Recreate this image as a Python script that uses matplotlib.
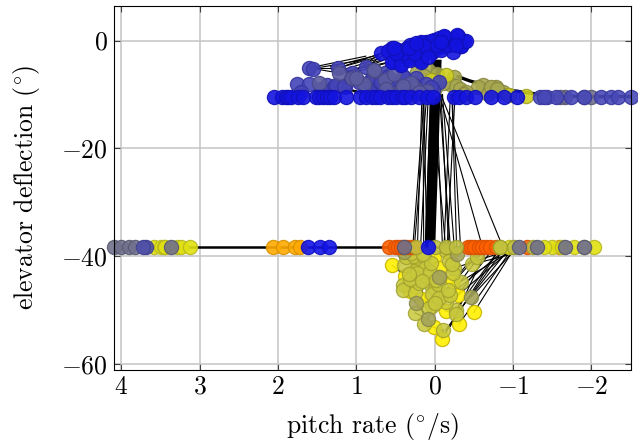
import matplotlib
matplotlib.use('Agg')
import matplotlib.pyplot as plt

plt.rcParams['font.family'] = ['cmr10', 'DejaVu Serif']
plt.rcParams['mathtext.fontset'] = 'cm'
plt.rcParams['axes.unicode_minus'] = False

# One group per colour
top_x = [.69, .54, .52, .43, .39, .31, .24, .18, .18, .11, .03, .01, -.06, -.12, -.18, -.3, -.33, -.38,
         .6, .47, .35, .28, .22, .14, .08, .05, -.02, -.04, -.1, -.15, -.2, -.25, .36, .27, .12, .16, -.08, 0.0,
         .54, .43, .31, .18, .22, .39, .5, .52, .03, -.08, -.23, -.16, -.33, -.4, -.29, -.12, .05, .18, .31, .14,
         -.03, .08, .27, .33, .24, -.27, -.08]
top_y = [-2.4, -1.45, -3.8, -4.2, -2.3, -3.3, -2.1, -.5, -3.6, -.2, -2.1, .1, .4, .7, -.8, .8, -1, 0,
         -2.0, -1.8, -1.4, -1.0, -1.2, -.9, -.4, -1.2, -.6, -.9, -.1, -.3, -.2, .3, -3.0, -2.6, -1.8, -2.8, -1.2, -1.6,
         -3.9, -4.5, -3.6, -3.9, -2.1, -2.4, -2.4, -1.45, -2.1, -1.7, -2.1, -.8, -1.1, 0, 1, .8, 0, -.2, -.8, -1.1,
         -.8, -3, -2.4, -1.45, -.5, -.8, -.2]

slate_x = [1.61, 1.55, 1.23, 1.05, .97, .88, 1.76, 1.61, 1.37, 1.29, 1.15, 1.71, 1.45,
           .71, .56, .41, .24, .11, -.05, .26, .43, .64, .02, .34, .8, .5,
           1.26, 1.16, .82, .71, .56, .41, .68, .5, .31, .05, .82, .6, 1.07, .16]
slate_y = [-5.1, -5.2, -5.1, -6, -7.6, -5, -8.1, -8, -8.3, -8.6, -8.7, -9.5, -9.0,
           -8.5, -7.8, -6.5, -7, -8.1, -7.7, -8.3, -8.6, -6, -9.2, -9.1, -6.9, -9.4,
           -8.2, -8.5, -7.6, -8.5, -7.9, -6.7, -7.6, -9.5, -8.9, -8.6, -9.5, -6.7, -7, -10]

grey_blue_x = [1.22, 1.48, 1.05, .77, .64, .24, .43, .62, .3, .1, .9, 1.0, .41, .2, .77, .52]
grey_blue_y = [-6, -7.9, -7.0, -5.7, -7.3, -8.9, -9.2, -8.9, -7.9, -9.3, -8.1, -6.9, -8.5, -9.6, -5.5, -6.2]

olive_x = [.09, .22, -.03, -.25, .05, -.2, -.27, -.32, -.62, -.55, -.78, -.7, -.87, -.68, -.4, .13, -.1, .0, -.72, -.79, -.38]
olive_y = [-5.5, -5.8, -6.2, -6.7, -7.3, -8, -8.4, -8.9, -8.2, -8.6, -8.7, -9.2, -9.6, -10, -9.6, -6.6, -7.9, -8.8, -8.6, -9, -10]
bright_olive_x = [-.14, -1.16, .05, .29, -.95]
bright_olive_y = [-6.4, -10.3, -7.3, -8, -10.1]

row_blue_x = [2.05, 1.95, 1.9, 1.87, 1.83, 1.75, 1.68, 1.52, 1.48, 1.43, 1.38, 1.34, 1.29, 1.13, .95, .88, .8, .75,
              .7, .6, .55, .5, .42, .38, .3, .2, .1, .02, -.25, -.31, -.4, -.52, -.72, -.88, -1.05]
row_blue_y = [-10.4] * len(row_blue_x)
row_slate_x = [-1.35, -1.44, -1.55, -1.74, -2.12, -2.25, -2.34, -2.5, -1.4, -1.9]
row_slate_y = [-10.4] * len(row_slate_x)
row_grey_x = [-1.67, -1.9, -2.0, -1.6]
row_grey_y = [-10.4] * len(row_grey_x)

low_olive_x = [.41, .41, .25, .25, .14, -.11, -.27, -.33, -.06, -.48, -.54, -.14, .18, .26, .39,
               .37, .26, .14, .2, .03, -.01, -.1, .03, -.14, .03, .07, -.27, -.25, -.24, .12, .1, -.06, -.2, .32, .22, -.04, .06, -.17,
               .3, .33, .16, .05, -.18, -.22, .0, -.02, .15]
low_olive_y = [-45.3, -46.3, -46.9, -50.5, -52.6, -53.7, -49.9, -44.7, -43.8, -41.5, -40.2, -39, -41.6, -42.8, -41.6,
               -40.1, -39.9, -40.1, -45, -45.7, -46, -47, -47, -48.4, -49.3, -49.6, -50.8, -42.2, -43.1, -42.2, -43.8, -47.7, -47.2, -44.2, -43.1, -45.1, -42.9, -46.2,
               -39.4, -43.2, -44.5, -41.2, -40.8, -41.5, -48.6, -44.4, -39.5]
low_grey_x = [.24, .09, -.47, -.29, -.06, .39]
low_grey_y = [-48.6, -51.7, -47.5, -39.6, -43.8, -39.2]
low_yellow_x = [.54, .38, .31, .16, .01, -.09, -.31, -.14, -.5, -.3, -.23, .01, .2, -.06, -.2, .36]
low_yellow_y = [-41.7, -43.6, -46.4, -47.9, -53.2, -55.3, -52.6, -50.1, -50.4, -47.2, -44.6, -40.1, -41.6, -42.2, -39.5, -39.7]

row2_orange_x = [2.06, 1.93, 1.78, 1.72, -1.59]
row2_orange_y = [-38.3] * len(row2_orange_x)
row2_red_x = [.58, .51, .47, .43, .39, .35, .3, .26, -.42, -.46, -.5, -.57, -.61, -.65, -.71, -1.18, -.78]
row2_red_y = [-38.3] * len(row2_red_x)
row2_yellow_x = [3.58, 3.5, 3.46, 3.44, 3.29, 3.24, 3.12, -.84, -.95, -1.5, -1.62, -1.78, -2.03, -1.4]
row2_yellow_y = [-38.3] * len(row2_yellow_x)
row2_olive_x = [.24, -.01, -.14, -.27, -.84, -1.01, -1.9, -1.25]
row2_olive_y = [-38.3] * len(row2_olive_x)
row2_grey_x = [4.1, 4.0, 3.9, 3.82, 3.36, .39, -1.08, -1.31, -1.67, -1.9]
row2_grey_y = [-38.3] * len(row2_grey_x)
row2_slate_x = [3.69, 3.72]
row2_slate_y = [-38.3] * len(row2_slate_x)
row2_blue_x = [1.62, 1.46, 1.35, .09]
row2_blue_y = [-38.3] * len(row2_blue_x)

# Black connections, start and end of each
climb_x0 = [.28, .26, .22, .18, .14, .12, .1, -.1, -.14, -.18, -.2, -.25, -.28, -.33, -.61, -.87, -.12, -.16]
climb_y0 = [-38.3] * len(climb_x0)
climb_x1 = [.13, .1, .16, .08, .15, .05, .14, -.02, .05, -.08, -.05, -.1, -.22, -.22, -.06, -.05, -.2, -.26]
climb_y1 = [-10, -10, -9, -10, -8, -10, -10, -10, -8, -10, -8, -10, -10, -10, -10, -9, -10, -10]

drop_x0 = [-1.0, -.98, -.95, -.92, -.9, -.85, -.8, -.72, -.65, -.6, -.55, -.98, -.95, -.9, -.85, -.8, -.62]
drop_y0 = [-39.2, -39.6, -39.3, -39.5, -39.1, -39.4, -39.2, -39.1, -39.2, -39.0, -39.1, -39.4, -39.4, -39.5, -39.3, -39.3, -39.0]
drop_x1 = [-.47, -.48, -.33, -.3, -.25, -.2, -.27, -.14, -.2, -.06, .03, -.5, -.31, -.27, -.14, -.09, -.14]
drop_y1 = [-47.5, -41.5, -44.7, -47.2, -42.2, -47.2, -49.9, -50.1, -53, -47.7, -49.3, -50.4, -52.6, -50.8, -53.7, -55.3, -48.4]

low_link_x0 = [.54, .38, .41, .25, .24, .16, .25, .14, .01, -.11, .09, -.14, .31, .2, .03]
low_link_y0 = [-41.7, -43.6, -46.3, -46.9, -48.6, -47.9, -50.5, -52.6, -53.2, -53.7, -51.7, -50.1, -46.4, -45, -47]
low_link_x1 = [.38, .31, .24, .16, .14, .03, .09, .01, -.11, -.09, .03, -.27, .16, .07, .07]
low_link_y1 = [-43.6, -46.4, -48.6, -47.9, -50.5, -49.3, -51.7, -53.2, -53.7, -55.3, -49.3, -50.8, -47.9, -49.6, -49.6]

up_x0 = [1.61, 1.55, 1.61, 1.55, 1.23, 1.23, 1.05, .97, .88, 1.37, 1.29, 1.15, 1.05, .97, .88, 1.45, 1.29, 1.15, 1.33, 1.3, 1.25, 1.2]
up_y0 = [-5.1, -5.2, -5.1, -5.2, -5.1, -6, -6, -7.6, -5, -8.3, -8.6, -8.7, -6, -7.6, -5, -9, -8.6, -8.7, -4.9, -5.4, -5.8, -6.2]
up_x1 = [1.23, 1.23, .88, .88, .69, .52, .52, .43, .54, .97, .88, .9, .69, .52, .43, 1.05, 1.05, .97, .73, .72, .7, .68]
up_y1 = [-5.1, -6, -2.9, -3.5, -2.4, -3.8, -3.8, -4.2, -1.45, -9.5, -9.7, -9.8, -2.4, -3.8, -2.3, -9.8, -9.9, -9.9, -2.7, -3.0, -3.3, -3.6]

tail_x = [-.3, -.45, -.6, -.8, -1.0, -1.19, -1.4, -1.6, -2.0, -2.5]
tail_y = [-6.7, -7.5, -8.1, -8.8, -9.3, -9.7, -10.1, -10.3, -10.4, -10.4]

row2_line_x = [3.12, -1.05]
row2_line_y = [-38.3, -38.3]
column_x = [.06, -.02]
column_y = [-38.3, -4.5]

x_ticks = [4, 3, 2, 1, 0, -1, -2]
x_labels = ['$4$', '$3$', '$2$', '$1$', '$0$', '$-1$', '$-2$']
y_ticks = [0, -20, -40, -60]
y_labels = ['$0$', '$-20$', '$-40$', '$-60$']


def dots(ax, x, y, face, edge, alpha=0.9):
    ax.scatter(x, y, s=104, c=face, edgecolors=edge, linewidths=0.9, alpha=alpha, zorder=4, clip_on=False)


def links(ax, x0, y0, x1, y1):
    for i in range(len(x0)):
        ax.plot([x0[i], x1[i]], [y0[i], y1[i]], color='k', lw=0.8, zorder=3)


def main():
    fig = plt.figure(figsize=(6.38, 4.45), dpi=100)
    ax = fig.add_axes([113.5 / 638, 1 - 369.5 / 445, 517 / 638, 363.5 / 445])

    links(ax, climb_x0, climb_y0, climb_x1, climb_y1)
    links(ax, drop_x0, drop_y0, drop_x1, drop_y1)
    links(ax, low_link_x0, low_link_y0, low_link_x1, low_link_y1)
    links(ax, up_x0, up_y0, up_x1, up_y1)
    ax.plot(tail_x, tail_y, color='k', lw=2.4, zorder=3)
    ax.plot(row2_line_x, row2_line_y, color='k', lw=1.8, zorder=3)
    ax.plot(column_x, column_y, color='k', lw=7.5, zorder=3)

    dots(ax, low_yellow_x, low_yellow_y, '#fff000', '#c8b400')
    dots(ax, low_olive_x, low_olive_y, '#c8c83c', '#a0a030', alpha=0.85)
    dots(ax, low_grey_x, low_grey_y, '#a4a458', '#888848')
    dots(ax, olive_x, olive_y, '#a8a850', '#888840')
    dots(ax, bright_olive_x, bright_olive_y, '#d0d020', '#a0a020')
    dots(ax, row2_red_x, row2_red_y, '#ff6000', '#d85000')
    dots(ax, row2_orange_x, row2_orange_y, '#ffaa00', '#d89000')
    dots(ax, row2_yellow_x, row2_yellow_y, '#e0e010', '#b8b820')
    dots(ax, row2_olive_x, row2_olive_y, '#c0c040', '#9a9a30')
    dots(ax, row2_grey_x, row2_grey_y, '#70708c', '#585870')
    dots(ax, row2_slate_x, row2_slate_y, '#5050a8', '#404090')
    dots(ax, row2_blue_x, row2_blue_y, '#1414e8', '#1010c0')
    dots(ax, row_grey_x, row_grey_y, '#70708c', '#585870')
    dots(ax, row_slate_x, row_slate_y, '#4848b8', '#3838a0')
    dots(ax, slate_x, slate_y, '#4444b8', '#3434a0')
    dots(ax, grey_blue_x, grey_blue_y, '#5c5ca0', '#484888')
    dots(ax, row_blue_x, row_blue_y, '#1414e0', '#1010b8')
    dots(ax, top_x, top_y, '#1414e0', '#1010b8')

    ax.set_xlim(4.1, -2.5)
    ax.set_ylim(-61, 6.4)
    ax.set_xticks(x_ticks)
    ax.set_xticklabels(x_labels)
    ax.set_yticks(y_ticks)
    ax.set_yticklabels(y_labels)
    ax.tick_params(axis='both', direction='in', length=4, width=0.8, color='#404040',
                   top=True, right=True, labelsize=18.5, pad=4)
    ax.grid(True, color='#c4c4c4', lw=1.1, zorder=0)
    ax.set_axisbelow(True)
    ax.set_xlabel('pitch rate ($^{\\circ}$/s)', fontsize=18.5, labelpad=9)
    ax.set_ylabel('elevator deflection ($^{\\circ}$)', fontsize=18.5, labelpad=14)

    for side in ax.spines.values():
        side.set_linewidth(0.8)
        side.set_zorder(6)

    fig.savefig('out.png', dpi=100)


if __name__ == '__main__':
    main()
